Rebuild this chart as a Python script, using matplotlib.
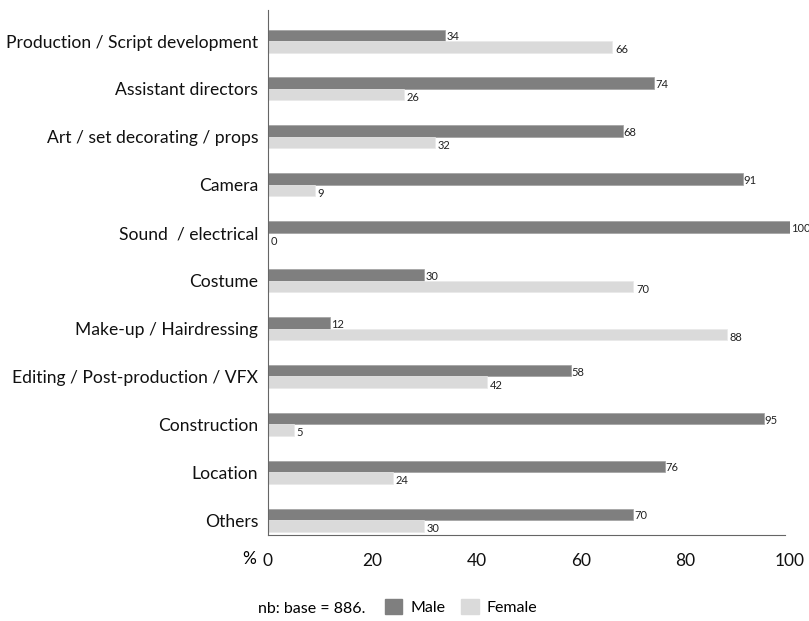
import numpy as np
import matplotlib
matplotlib.use("Agg")
import matplotlib.pyplot as plt
import matplotlib.patches as patches

# share of crew by department, percent
departments = ["Production / Script development", "Assistant directors",
               "Art / set decorating / props", "Camera", "Sound  / electrical",
               "Costume", "Make-up / Hairdressing", "Editing / Post-production / VFX",
               "Construction", "Location", "Others"]
male = [34, 74, 68, 91, 100, 30, 12, 58, 95, 76, 70]
female = [66, 26, 32, 9, 0, 70, 88, 42, 5, 24, 30]
xticks = [0, 20, 40, 60, 80, 100]

male_col = "#7f7f7f"
female_col = "#dadada"

plt.rcParams['font.family'] = ['Lato', 'DejaVu Sans']

fig = plt.figure(figsize=(8.09, 6.21), dpi=100)
ax = fig.add_axes([0.331, 0.1385, 0.6455, 0.8455])

y = np.arange(len(departments))
h = 0.24
ax.barh(y - h / 2, male, height=h, color=male_col, edgecolor="#a0a0a0", linewidth=0.5)
ax.barh(y + h / 2, female, height=h, color=female_col, edgecolor="#e8e8e8", linewidth=0.5)

for i in range(len(departments)):
    ax.text(male[i] + 0.15, y[i] - h / 2 + 0.03, str(male[i]), fontsize=8,
            va="center", ha="left", color="#222222", clip_on=False)
    ax.text(female[i] + 0.5, y[i] + h / 2 + 0.06, str(female[i]), fontsize=8,
            va="center", ha="left", color="#222222", clip_on=False)

ax.set_xlim(0, 100)
ax.set_ylim(10.31, -0.65)
ax.set_yticks(y)
ax.set_yticklabels(departments, fontsize=12.6)
ax.set_xticks(xticks)
ax.set_xticklabels([str(t) for t in xticks], fontsize=12.5)
ax.tick_params(axis="both", length=0, colors="#111111")
ax.tick_params(axis="y", pad=7)
ax.tick_params(axis="x", pad=13)
ax.text(-0.022, -0.03, "%", transform=ax.transAxes, ha="right", va="top", fontsize=12.5)

for s in ["top", "right"]:
    ax.spines[s].set_visible(False)
ax.spines["left"].set_color("#666666")
ax.spines["bottom"].set_color("#666666")
ax.spines["bottom"].set_bounds(0, 99)

# footnote and legend
fig.text(0.319, 0.008, "nb: base = 886.", fontsize=11.5, va="bottom")
handles = [patches.Patch(color=male_col, label="Male"),
           patches.Patch(color=female_col, label="Female")]
fig.legend(handles=handles, loc="lower left", bbox_to_anchor=(0.458, -0.013),
           ncol=2, frameon=False, fontsize=11.5, handlelength=1.1,
           handleheight=1.1, handletextpad=0.5, columnspacing=1.0)

fig.savefig("out.png", dpi=100)
